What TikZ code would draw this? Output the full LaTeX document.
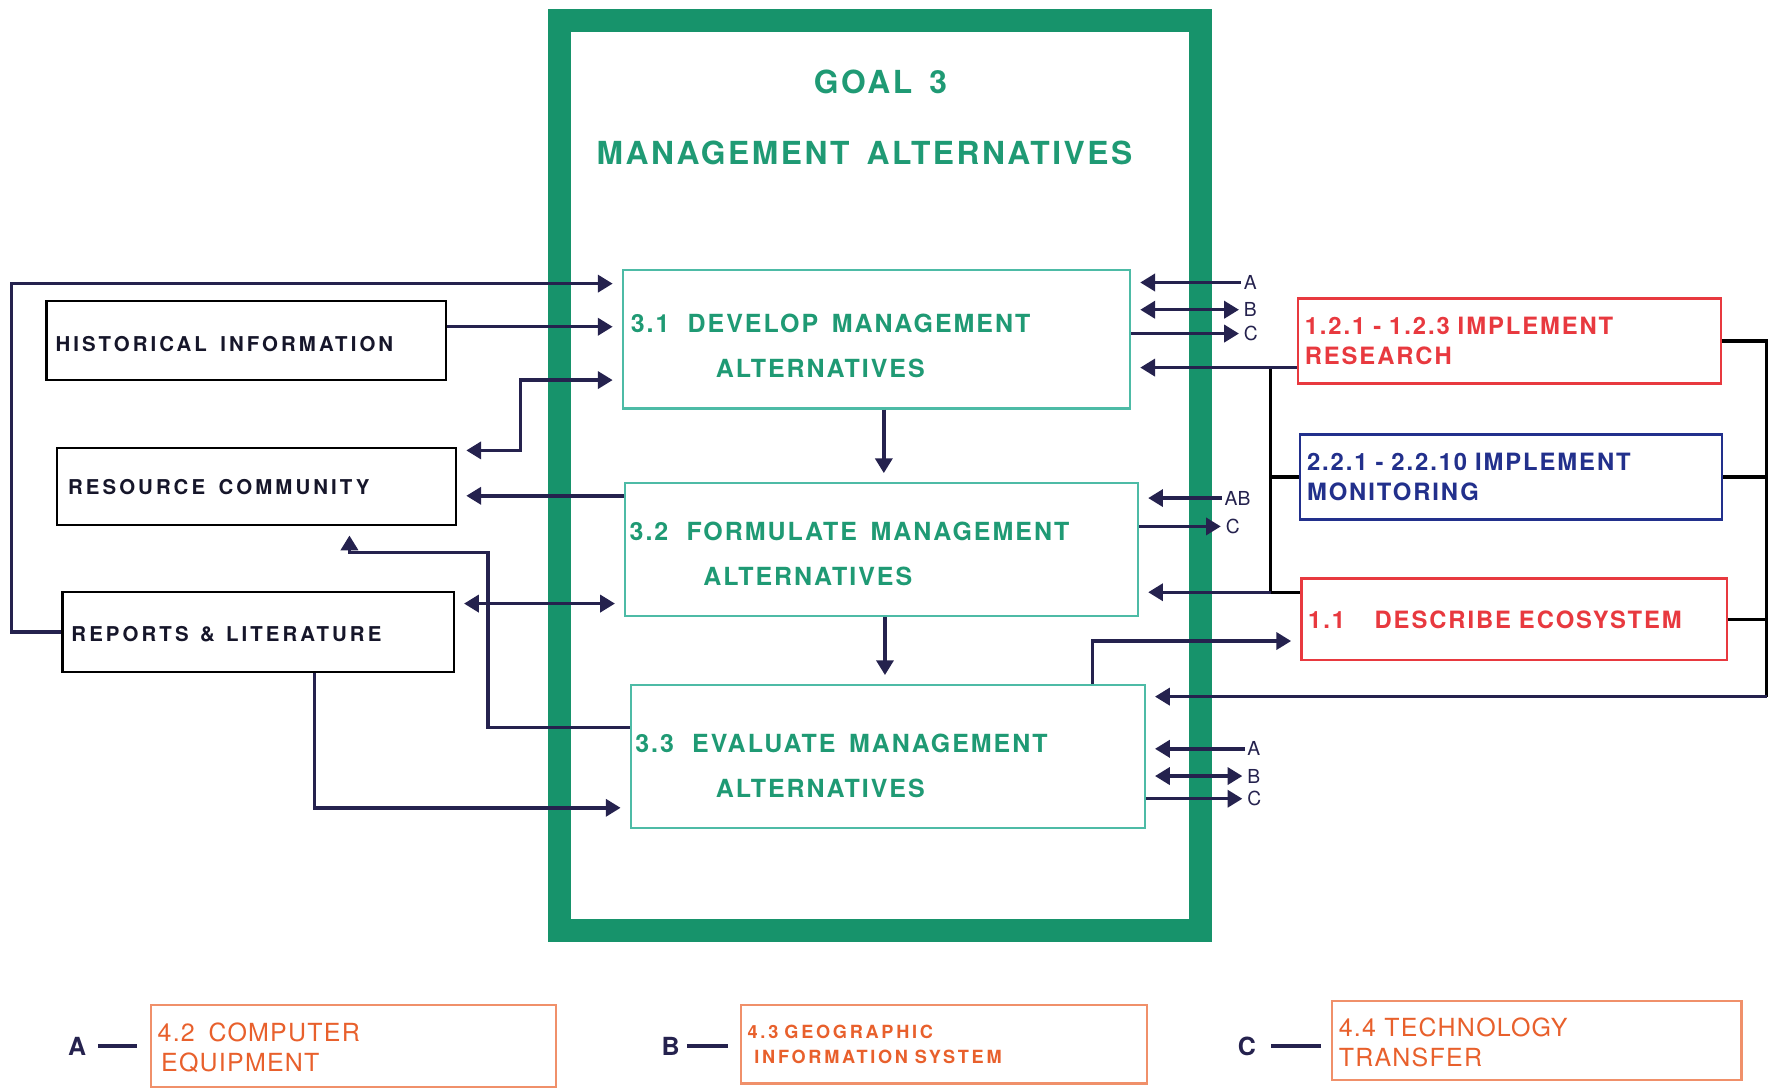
\documentclass[tikz,border=0pt]{standalone}
\usepackage{fontspec}
\setmainfont{TeX Gyre Heros}
\newfontfamily\wideheros[LetterSpace=8,WordSpace=1.5]{TeX Gyre Heros}
\newfontfamily\widerheros[LetterSpace=15,WordSpace=1.6]{TeX Gyre Heros}
\newfontfamily\legheros[LetterSpace=5,WordSpace=1.3]{TeX Gyre Heros}
\usetikzlibrary{arrows.meta}

\definecolor{goalgreen}{HTML}{17936B}
\definecolor{boxteal}{HTML}{4DBBA6}
\definecolor{textgreen}{HTML}{1F9A74}
\definecolor{resred}{HTML}{E8393F}
\definecolor{monblue}{HTML}{22308C}
\definecolor{legorange}{HTML}{E8602C}
\definecolor{legline}{HTML}{F0906A}
\definecolor{flownavy}{HTML}{25224E}
\definecolor{srcink}{HTML}{16162A}

\tikzset{
  procbox/.style={draw=boxteal, line width=1pt, fill=white, text=textgreen, align=left,
    inner xsep=2pt, font=\wideheros\bfseries\fontsize{11}{13}\selectfont},
  srcbox/.style={draw=black, line width=1pt, fill=white, text=srcink, align=left,
    inner xsep=4pt, font=\widerheros\bfseries\fontsize{9}{11}\selectfont},
  taskbox/.style={line width=1pt, fill=white, align=left, inner xsep=3pt,
    font=\wideheros\bfseries\fontsize{10.5}{13}\selectfont},
  legbox/.style={draw=legline, line width=1pt, text=legorange, align=left, inner xsep=3pt,
    font=\legheros\fontsize{11}{13}\selectfont},
  legkey/.style={text=flownavy, inner sep=1pt, font=\bfseries\fontsize{11}{13}\selectfont},
  legdash/.style={draw=flownavy, line width=2pt},
  title/.style={text=textgreen, font=\wideheros\bfseries\fontsize{14}{16}\selectfont},
  abc/.style={text=flownavy, inner sep=1pt, anchor=west, font=\fontsize{8.5}{10}\selectfont},
  tip/.tip={Triangle[length=6.5pt,width=7.5pt]},
  flow/.style={draw=flownavy, line width=1.5pt, -tip, shorten >=4pt},
  twoway/.style={draw=flownavy, line width=1.5pt, tip-tip, shorten >=4pt, shorten <=4pt},
  tolabel/.style={shorten >=1pt},
  conn/.style={draw=black, line width=1.5pt}
}

\begin{document}
\begin{tikzpicture}[x=0.5pt,y=-0.5pt]
  \useasboundingbox (0,0) rectangle (1568,962);

  \node[draw=goalgreen, line width=10pt, minimum width=282.5pt, minimum height=401pt, inner sep=0pt]
    (goalframe) at (775.5,419) {};
  \node[title] (goal) at (776,72) {GOAL 3};
  \node[title] (mgmt) at (762,135) {MANAGEMENT ALTERNATIVES};

  % goal 3 steps
  \node[procbox, text width=219.5pt, minimum height=61pt] (p31) at (772.5,299)
    {\rule{0pt}{14pt}\hspace*{1.5pt}3.1\hspace{8pt}DEVELOP\hspace{6pt}MANAGEMENT\\[7pt]\hspace*{39pt}ALTERNATIVES};
  \node[procbox, text width=222pt, minimum height=58.5pt] (p32) at (777,484.5)
    {\rule{0pt}{12pt}3.2\hspace{8pt}FORMULATE\hspace{6pt}MANAGEMENT\\[7pt]\hspace*{32.5pt}ALTERNATIVES};
  \node[procbox, text width=222.5pt, minimum height=63pt] (p33) at (782.5,667)
    {\rule{0pt}{16pt}3.3\hspace{8pt}EVALUATE\hspace{6pt}MANAGEMENT\\[7pt]\hspace*{35.5pt}ALTERNATIVES};

  % sources
  \node[srcbox, text width=168pt, minimum height=35pt] (hist) at (217,300)
    {\rule{0pt}{10pt}HISTORICAL\hspace{6pt}INFORMATION};
  \node[srcbox, text width=168pt, minimum height=34pt] (rescom) at (226,429)
    {\hspace*{1pt}RESOURCE\hspace{6pt}COMMUNITY};
  \node[srcbox, text width=164.5pt, minimum height=35pt] (reports) at (227.5,557)
    {\rule{0pt}{9pt}REPORTS\hspace{5pt}\&\hspace{5pt}LITERATURE};

  % other goals
  \node[taskbox, draw=resred, text=resred, text width=180.5pt, minimum height=37.5pt] (research)
    at (1330.5,300.5) {1.2.1 - 1.2.3 IMPLEMENT\\RESEARCH};
  \node[taskbox, draw=monblue, text=monblue, text width=180pt, minimum height=37.5pt] (monitor)
    at (1332,420.5) {2.2.1 - 2.2.10 IMPLEMENT\\MONITORING};
  \node[taskbox, draw=resred, text=resred, text width=181.5pt, minimum height=36pt] (ecosys)
    at (1334.5,546) {1.1\hspace{13pt}DESCRIBE ECOSYSTEM};

  % legend
  \node[legbox, text width=172.5pt, minimum height=36pt] (comp) at (311.5,922)
    {\rule{0pt}{10pt}4.2\hspace{6pt}COMPUTER\\\hspace*{1.5pt}EQUIPMENT};
  \node[legbox, text width=173pt, minimum height=34.5pt, font=\widerheros\bfseries\fontsize{8}{11}\selectfont]
    (gis) at (832,920.5) {4.3 GEOGRAPHIC\\\hspace*{3pt}INFORMATION\hspace{3pt}SYSTEM};
  \node[legbox, text width=174.5pt, minimum height=35pt] (tech) at (1354.5,917)
    {\rule{0pt}{10pt}4.4 TECHNOLOGY\\TRANSFER};
  \node[legkey] (keya) at (68,922) {A};
  \node[legkey] (keyb) at (591,922) {B};
  \node[legkey] (keyc) at (1099,922) {C};
  \draw[legdash, shorten <=4pt, shorten >=5.5pt] (keya.east) -- (keya.east -| comp.west);
  \draw[legdash, shorten <=2pt, shorten >=5pt] (keyb.east) -- (keyb.east -| gis.west);
  \draw[legdash, shorten <=5.5pt, shorten >=4.5pt] (keyc.east) -- (keyc.east -| tech.west);

  % A B C tags
  \node[abc] (a31) at (1094,249) {A};
  \node[abc] (b31) at (1094,273) {B};
  \node[abc] (c31) at (1094,294) {C};
  \node[abc] (ab32) at (1077,439) {AB};
  \node[abc] (c32) at (1078,464) {C};
  \node[abc] (a33) at (1097,660) {A};
  \node[abc] (b33) at (1097,684) {B};
  \node[abc] (c33) at (1097,704) {C};

  \coordinate (loopc) at (10,250);
  \coordinate (rcjoin) at (430,487);
  \coordinate (lbus) at (1120,522);
  \coordinate (rbus) at (1557,614);

  % left side
  \draw[flow] (reports.west) -| (loopc) -- (loopc -| p31.west);
  \draw[flow] ([yshift=6pt]hist.east) -- ([yshift=6pt]hist.east -| p31.west);
  \draw[twoway] ([yshift=16pt]rescom.east) -- ++(28pt,0) |- ([yshift=-18pt]p31.west);
  \draw[flow] ([yshift=23.75pt]p32.west) -- ([yshift=23.75pt]p32.west -| rescom.east);
  \draw[flow] ([yshift=13pt]p33.west) -| (rcjoin) -| ([xshift=41pt]rescom.south);
  \draw[twoway] ([yshift=12.5pt]reports.east) -- ([yshift=12.5pt]reports.east -| p32.west);
  \draw[flow] ([xshift=24.75pt]reports.south) |- ([yshift=-22.5pt]p33.west);

  % down the steps
  \draw[flow] ([xshift=3.25pt]p31.south) -- ([xshift=3.25pt]p31.south |- p32.north);
  \draw[flow] ([xshift=1.5pt]p32.south) -- ([xshift=1.5pt]p32.south |- p33.north);

  % right side
  \draw[flow] (a31.west) -- (a31.west -| p31.east);
  \draw[twoway, shorten <=1pt] (b31.west) -- (b31.west -| p31.east);
  \draw[flow, tolabel] (c31.west -| p31.east) -- (c31.west);
  \draw[flow] (ab32.west) -- (ab32.west -| p32.east);
  \draw[flow, tolabel] (c32.west -| p32.east) -- (c32.west);
  \draw[flow] (a33.west) -- (a33.west -| p33.east);
  \draw[twoway, shorten <=1pt] (b33.west) -- (b33.west -| p33.east);
  \draw[flow, tolabel] (c33.west -| p33.east) -- (c33.west);

  \draw[conn] ([yshift=-11.75pt]research.west) -| (lbus) -- (ecosys.west |- lbus);
  \draw[flow] ([yshift=-11.75pt]research.west) -- ([yshift=-11.75pt]research.west -| p31.east);
  \draw[conn] (monitor.west) -- (monitor.west -| lbus);
  \draw[flow] (lbus) -- (lbus -| p32.east);
  \draw[flow] ([xshift=90.25pt]p33.north) |- ([yshift=-9.5pt]ecosys.west);

  \draw[conn] (research.east) -| (rbus);
  \draw[conn] (monitor.east) -- (monitor.east -| rbus);
  \draw[conn] (ecosys.east) -- (ecosys.east -| rbus);
  \draw[flow] (rbus) -- (rbus -| p33.east);
\end{tikzpicture}
\end{document}
